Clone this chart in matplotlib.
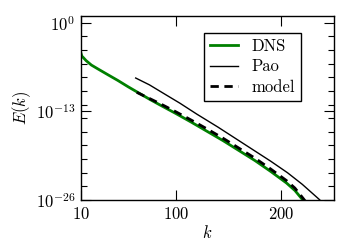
import numpy as np
import matplotlib
matplotlib.use('Agg')
import matplotlib.pyplot as plt

plt.rcParams['mathtext.fontset'] = 'cm'
plt.rcParams['font.family'] = ['cmr10', 'DejaVu Serif']
plt.rcParams['axes.formatter.use_mathtext'] = True

# spectrum data (log10 of E)
k_dns = [10, 11, 12, 15, 20, 26, 36, 45, 55, 65, 75, 85, 100, 115, 130, 145, 160, 175, 190, 205, 213, 220, 224]
logE_dns = [-4.4, -4.9, -5.05, -5.55, -6.2, -6.75, -7.65, -8.45, -9.4, -10.3, -11.2, -12.05, -13.3,
            -14.6, -15.95, -17.3, -18.75, -20.2, -21.8, -23.5, -24.6, -25.9, -26.7]

k_pao = [62, 75, 90, 104, 120, 140, 152, 161, 175, 190, 206, 220, 236, 240]
logE_pao = [-8.1, -9.1, -10.5, -11.8, -13.4, -15.3, -16.5, -17.4, -18.8, -20.3, -22.0, -23.7, -25.9, -26.5]

k_model = [63, 75, 85, 100, 115, 130, 145, 160, 175, 190, 205, 213, 221, 225]
logE_model = [-10.2, -11.1, -11.85, -13.05, -14.3, -15.6, -16.95, -18.4, -19.85, -21.45, -23.15,
              -24.25, -25.8, -26.6]

fig = plt.figure(figsize=(3.5, 2.5), dpi=100)
ax = fig.add_axes([0.231, 0.2, 0.723, 0.736])

ax.semilogy(k_dns, 10.0 ** np.array(logE_dns), color=(0, 0.5, 0), lw=2, label=r'DNS')
ax.semilogy(k_pao, 10.0 ** np.array(logE_pao), color='k', lw=1, label=r'Pao')
ax.semilogy(k_model, 10.0 ** np.array(logE_model), color='k', lw=2, ls='--', dashes=(3, 2), label=r'model')

ax.set_xlim(10, 250)
ax.set_ylim(1e-26, 1e1)
ax.set_xticks([10, 100, 200])
ax.set_xticklabels([r'$10$', r'$100$', r'$200$'])
ax.set_yticks([1e0, 1e-13, 1e-26])
ax.set_yticklabels([r'$10^{0}$', r'$10^{-13}$', r'$10^{-26}$'])
ax.set_yticks([10.0 ** e for e in range(0, -27, -2)], minor=True)
ax.set_yticklabels([], minor=True)
ax.xaxis.set_minor_locator(matplotlib.ticker.NullLocator())

ax.tick_params(which='both', direction='in', top=True, right=True, labelsize=12)
ax.tick_params(which='major', length=7, width=0.8, pad=4)
ax.tick_params(which='minor', length=4, width=0.8)
for s in ax.spines.values():
    s.set_linewidth(1.0)

ax.set_xlabel(r'$k$', fontsize=12, labelpad=2)
ax.set_ylabel(r'$E(k)$', fontsize=12, labelpad=2)

leg = ax.legend(loc='upper right', bbox_to_anchor=(0.87, 0.908), borderaxespad=0,
                fontsize=12, handlelength=1.7, fancybox=False, framealpha=1,
                edgecolor='k', labelspacing=0.3, borderpad=0.35)
leg.get_frame().set_linewidth(1.0)

fig.savefig('out.png', dpi=100)
